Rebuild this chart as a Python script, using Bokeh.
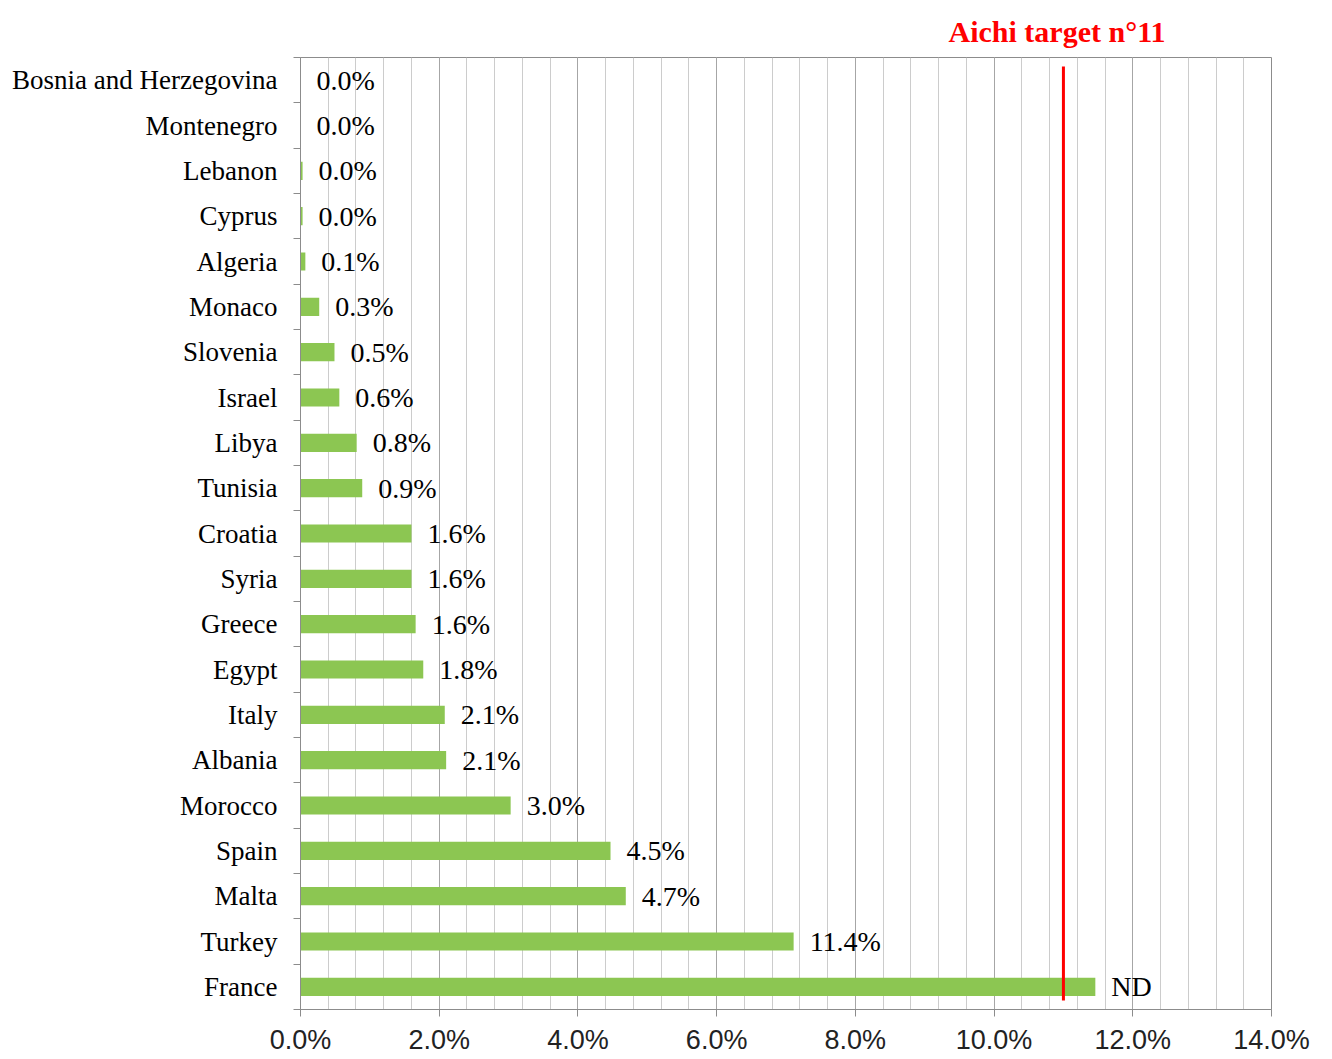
from bokeh.plotting import figure
from bokeh.models import FixedTicker, Range1d, ColumnDataSource, PrintfTickFormatter
from bokeh.core.properties import value
from bokeh.embed import file_html
from bokeh.resources import INLINE

# ---- data (top to bottom as drawn) ----
countries = ["Bosnia and Herzegovina", "Montenegro", "Lebanon", "Cyprus", "Algeria",
             "Monaco", "Slovenia", "Israel", "Libya", "Tunisia", "Croatia", "Syria",
             "Greece", "Egypt", "Italy", "Albania", "Morocco", "Spain", "Malta",
             "Turkey", "France"]
bar_values = [0.0, 0.0, 0.03, 0.03, 0.07, 0.27, 0.49, 0.56, 0.81, 0.89, 1.60, 1.60,
              1.66, 1.77, 2.08, 2.10, 3.03, 4.47, 4.69, 7.11, 11.46]
value_labels = ["0.0%", "0.0%", "0.0%", "0.0%", "0.1%", "0.3%", "0.5%", "0.6%", "0.8%",
                "0.9%", "1.6%", "1.6%", "1.6%", "1.8%", "2.1%", "2.1%", "3.0%", "4.5%",
                "4.7%", "11.4%", "ND"]
aichi_target = 11.0
aichi_text = "Aichi target n°11"
x_ticks = [0, 2, 4, 6, 8, 10, 12, 14]
x_minor_ticks = [round(0.4 * k, 1) for k in range(36)]

n = len(countries)
ypos = [n - 1 - i for i in range(n)]
src = ColumnDataSource(dict(y=ypos, v=bar_values, lab=value_labels))

GREEN = "#8cc652"
SERIF = "Liberation Serif"

p = figure(frame_width=971, frame_height=952,
           x_range=Range1d(0, 14), y_range=Range1d(-0.5, n - 0.5),
           output_backend="svg", toolbar_location=None,
           min_border_left=300, min_border_right=56, min_border_top=57, min_border_bottom=48,
           background_fill_color="white", border_fill_color="white")

p.hbar(y="y", left=0, right="v", height=0.4, fill_color=GREEN, line_color=None, source=src)
p.text(x="v", y="y", text="lab", x_offset=16, text_baseline="middle", text_align="left",
       text_font=value(SERIF), text_font_size="28px", text_color="black", source=src)
p.segment(x0=[aichi_target], x1=[aichi_target], y0=[-0.3], y1=[n - 0.7],
          line_color="#ff0000", line_width=3)

# Aichi target caption as title
p.title.text = aichi_text
p.title.align = "left"
p.title.vertical_align = "top"
p.title.offset = 648
p.title.text_font = SERIF
p.title.text_font_size = "30px"
p.title.text_font_style = "bold"
p.title.text_color = "#ff0000"
p.title.standoff = 16

# x axis
xa = p.xaxis[0]
xa.ticker = FixedTicker(ticks=x_ticks, minor_ticks=x_minor_ticks)
xa.formatter = PrintfTickFormatter(format="%.1f%%")
xa.major_tick_out = 7
xa.major_tick_in = 0
xa.minor_tick_out = 0
xa.minor_tick_in = 0
xa.axis_line_color = "#8c8c8c"
xa.major_tick_line_color = "#8c8c8c"
xa.major_label_text_font = "Liberation Sans"
xa.major_label_text_font_size = "27px"
xa.major_label_text_color = "#222222"
xa.major_label_standoff = 8

# y axis
ya = p.yaxis[0]
ya.ticker = FixedTicker(ticks=ypos, minor_ticks=[k - 0.5 for k in range(n + 1)])
ya.major_label_overrides = {y: c for y, c in zip(ypos, countries)}
ya.major_tick_out = 0
ya.major_tick_in = 0
ya.major_tick_line_color = None
ya.minor_tick_out = 7
ya.minor_tick_in = 0
ya.minor_tick_line_color = "#8c8c8c"
ya.axis_line_color = "#8c8c8c"
ya.major_label_text_font = SERIF
ya.major_label_text_font_size = "27px"
ya.major_label_text_color = "black"
ya.major_label_standoff = 16

p.xgrid.grid_line_color = "#a6a6a6"
p.xgrid.minor_grid_line_color = "#cccccc"
p.ygrid.grid_line_color = None
p.outline_line_color = "#8c8c8c"

open("out.html", "w").write(file_html(p, INLINE))
